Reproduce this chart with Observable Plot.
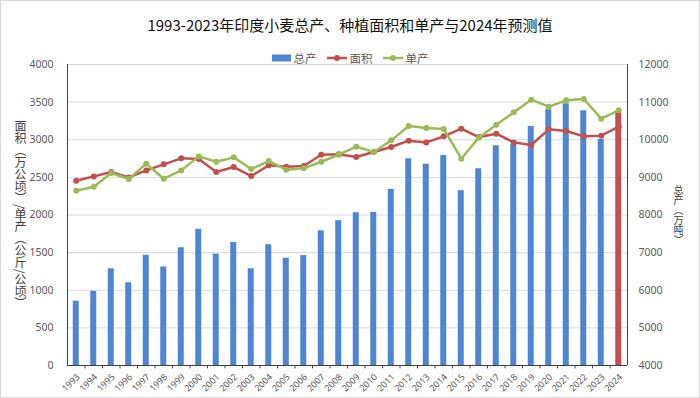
<!DOCTYPE html>
<html><head><meta charset="utf-8">
<script src="https://cdn.jsdelivr.net/npm/d3@7"></script>
<script src="https://cdn.jsdelivr.net/npm/@observablehq/plot@0.6"></script>
<style>
html,body{margin:0;padding:0;background:#fff;}
#chart{position:relative;width:700px;height:398px;overflow:hidden;font-family:"Noto Sans CJK SC","Noto Sans",sans-serif;}
#border{position:absolute;left:0;top:0;width:700px;height:398px;box-sizing:border-box;border:1px solid #d9d9d9;pointer-events:none;z-index:5;}
#plot{position:absolute;left:0;top:0;}
.title{position:absolute;left:0;right:0;top:15px;text-align:center;font-size:15px;color:#111;line-height:20px;z-index:3;}
.legend{position:absolute;left:0;right:0;top:50px;display:flex;justify-content:center;align-items:center;font-size:11.5px;color:#595959;line-height:16px;z-index:3;}
.legend .item{display:flex;align-items:center;margin:0 5px;}
.legend svg{margin-right:3px;}
.ytitle{position:absolute;writing-mode:vertical-rl;text-orientation:mixed;color:#404040;z-index:3;line-height:14px;white-space:nowrap;}
</style>
</head><body>
<div id="chart">
  <div class="title">1993-2023年印度小麦总产、种植面积和单产与2024年预测值</div>
  <div class="legend" id="legend"></div>
  <div class="ytitle" id="ytl"></div>
  <div class="ytitle" id="ytr"></div>
  <div id="plot"></div>
  <div id="border"></div>
</div>
<script>
const years = [1993,1994,1995,1996,1997,1998,1999,2000,2001,2002,2003,2004,2005,2006,2007,2008,2009,2010,2011,2012,2013,2014,2015,2016,2017,2018,2019,2020,2021,2022,2023,2024];
// 总产（万吨）
const production = [5710,5970,6570,6200,6930,6620,7130,7620,6960,7270,6570,7210,6850,6920,7580,7850,8060,8070,8680,9495,9350,9580,8645,9230,9840,9880,10354,10798,10957,10771,10008,10726];
// 面积（万公顷）
const area = [2456,2513,2571,2500,2593,2673,2753,2744,2571,2637,2518,2660,2642,2651,2801,2806,2770,2837,2903,2988,2965,3045,3147,3036,3081,2965,2930,3138,3116,3045,3054,3174];
// 单产（公斤/公顷）
const yieldKg = [2323,2376,2558,2478,2682,2482,2593,2779,2708,2766,2611,2717,2602,2620,2708,2801,2908,2837,2992,3183,3156,3143,2748,3028,3200,3364,3533,3440,3524,3542,3280,3391];
const forecastYear = 2024;
const leftTicks = [0,500,1000,1500,2000,2500,3000,3500,4000];
const seriesNames = ["总产","面积","单产"];
const leftTitle = "面积（万公顷）/单产（公斤/公顷）";
const rightTitle = "总产（万吨）";
const colors = {prod:"#4e86d4", forecast:"#c0504d", area:"#c0504d", yield:"#9bbb59"};

const data = years.map((y,i)=>({year:String(y), prod:production[i], area:area[i], yld:yieldKg[i], forecast:y===forecastYear}));
const toLeft = v => (v - 4000) / 2;   // right axis 4000–12000 mapped onto left 0–4000
const toRight = d => 4000 + 2 * d;

const half = 8.75;
const chart = Plot.plot({
  width: 700, height: 398,
  marginLeft: 67, marginRight: 73, marginTop: 64, marginBottom: 33,
  style: {background: "transparent", fontFamily: "'Noto Sans', sans-serif", overflow: "visible"},
  x: {type: "band", domain: years.map(String), padding: 0, round: false, axis: null},
  y: {domain: [0, 4000], axis: null},
  marks: [
    Plot.ruleY(leftTicks.filter(d=>d>0), {stroke: "#d9d9d9", strokeWidth: 1}),
    Plot.barY(data, {x: "year", y1: 0, y2: d => toLeft(d.prod), fill: d => d.forecast ? colors.forecast : colors.prod, insetLeft: 5.75, insetRight: 5.75}),
    Plot.ruleY([0], {stroke: "#404040", strokeWidth: 1}),
    Plot.ruleX([years[0]].map(String), {y1: 0, y2: 4000, dx: -half, stroke: "#404040"}),
    Plot.ruleX([years[years.length-1]].map(String), {y1: 0, y2: 4000, dx: half, stroke: "#404040"}),
    Plot.ruleX(years.slice(1).map(String), {y1: 0, y2: -45, dx: -half, stroke: "#404040"}),
    Plot.line(data, {x: "year", y: "area", stroke: colors.area, strokeWidth: 2.5}),
    Plot.dot(data, {x: "year", y: "area", fill: colors.area, r: 3}),
    Plot.line(data, {x: "year", y: "yld", stroke: colors.yield, strokeWidth: 2.5}),
    Plot.dot(data, {x: "year", y: "yld", fill: colors.yield, r: 3}),
    Plot.axisY({anchor: "left", ticks: leftTicks, tickSize: 0, tickPadding: 14, tickFormat: d => String(d), label: null, fontSize: 10.5, color: "#595959"}),
    Plot.axisY({anchor: "right", ticks: leftTicks, tickSize: 0, tickPadding: 11, tickFormat: d => String(toRight(d)), label: null, fontSize: 10.5, color: "#595959"}),
    Plot.text(data, {x: "year", y: 0, text: "year", rotate: -45, textAnchor: "end", dx: 2, dy: 10, fontSize: 9, fill: "#595959"})
  ]
});
document.getElementById("plot").appendChild(chart);

// legend
const leg = document.getElementById("legend");
const swatches = [
  {name: seriesNames[0], svg: `<svg width="19" height="8"><rect x="0" y="0.5" width="19" height="7" fill="${colors.prod}"/></svg>`},
  {name: seriesNames[1], svg: `<svg width="20" height="8"><line x1="0" x2="20" y1="4" y2="4" stroke="${colors.area}" stroke-width="2.5"/><circle cx="10" cy="4" r="3" fill="${colors.area}"/></svg>`},
  {name: seriesNames[2], svg: `<svg width="20" height="8"><line x1="0" x2="20" y1="4" y2="4" stroke="${colors.yield}" stroke-width="2.5"/><circle cx="10" cy="4" r="3" fill="${colors.yield}"/></svg>`}
];
leg.innerHTML = swatches.map(s => `<span class="item">${s.svg}<span>${s.name}</span></span>`).join("");

// vertical axis titles, centered on plot area
const plotMid = (64 + 365) / 2;
function place(el, text, fontSize, cx) {
  el.style.fontSize = fontSize + "px";
  el.textContent = text;
  el.style.left = (cx - el.offsetWidth / 2) + "px";
  el.style.top = (plotMid - el.offsetHeight / 2) + "px";
}
place(document.getElementById("ytl"), leftTitle, 12, 20);
place(document.getElementById("ytr"), rightTitle, 10, 678);
</script>
</body></html>
